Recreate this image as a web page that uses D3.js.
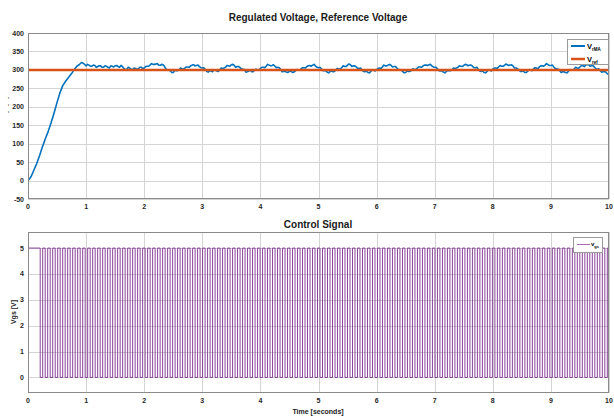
<!DOCTYPE html>
<html>
  <head>
    <meta charset="UTF-8">
    <title>Regulated Voltage</title>
    <script src="https://cdn.jsdelivr.net/npm/d3@7"></script>
    <style>
      body { margin: 0; background: #fff; }
      text { font-family: "Liberation Sans", Arial, sans-serif; font-weight: bold; }
    </style>
  </head>
  <body>
    <svg width="614" height="417"></svg>
    <script>
      // ---- data ----
      var timeTicks = [0,1,2,3,4,5,6,7,8,9,10];
      var voltTicks = [-50,0,50,100,150,200,250,300,350,400];
      var vgsTicks = [0,1,2,3,4,5];
      var vRef = 300;

      // [time, V_rMA]
      var vRMA = [
        [0,0],[0.03,5],[0.06,13],[0.10,28],[0.15,46],[0.20,68],[0.25,92],[0.30,114],[0.35,134],
        [0.40,158],[0.45,184],[0.50,212],[0.55,238],[0.60,258],[0.65,270],[0.70,280],[0.75,290],
        [0.80,302],[0.84,310],[0.88,314],[0.92,320],[0.95,318],[0.98,314],
        [1.000,311],[1.025,315],[1.050,313],[1.075,310],[1.100,310],[1.125,313],[1.150,312],[1.175,307],
        [1.200,309],[1.225,311],[1.250,311],[1.275,307],[1.300,307],[1.325,311],[1.350,310],[1.375,307],
        [1.400,305],[1.425,311],[1.450,310],[1.475,308],[1.500,311],[1.525,312],[1.550,309],[1.575,307],
        [1.600,312],[1.625,309],[1.650,304],[1.675,301],[1.700,302],[1.725,307],[1.750,305],[1.775,302],
        [1.800,301],[1.825,305],[1.850,304],[1.875,302],[1.900,303],[1.925,307],[1.950,307],[1.975,303],
        [2.000,305],[2.025,309],[2.050,310],[2.075,310],[2.100,313],[2.125,317],[2.150,315],[2.175,315],
        [2.200,316],[2.225,317],[2.250,313],[2.275,312],[2.300,315],[2.325,314],[2.350,309],[2.375,302],
        [2.400,301],[2.425,300],[2.450,297],[2.475,293],[2.500,293],[2.525,299],[2.550,298],[2.575,298],
        [2.600,300],[2.625,305],[2.650,303],[2.675,302],[2.700,305],[2.725,308],[2.750,308],[2.775,307],
        [2.800,311],[2.825,313],[2.850,314],[2.875,311],[2.900,312],[2.925,313],[2.950,309],[2.975,306],
        [3.000,305],[3.025,306],[3.050,301],[3.075,296],[3.100,294],[3.125,298],[3.150,297],[3.175,295],
        [3.200,299],[3.225,299],[3.250,297],[3.275,296],[3.300,300],[3.325,305],[3.350,304],[3.375,305],
        [3.400,307],[3.425,312],[3.450,311],[3.475,310],[3.500,314],[3.525,315],[3.550,312],[3.575,307],
        [3.600,309],[3.625,309],[3.650,306],[3.675,302],[3.700,302],[3.725,301],[3.750,294],[3.775,295],
        [3.800,297],[3.825,299],[3.850,295],[3.875,295],[3.900,299],[3.925,302],[3.950,300],[3.975,299],
        [4.000,304],[4.025,307],[4.050,307],[4.075,306],[4.100,310],[4.125,315],[4.150,313],[4.175,311],
        [4.200,312],[4.225,314],[4.250,310],[4.275,306],[4.300,307],[4.325,306],[4.350,301],[4.375,295],
        [4.400,296],[4.425,296],[4.450,294],[4.475,293],[4.500,296],[4.525,297],[4.550,293],[4.575,294],
        [4.600,297],[4.625,301],[4.650,299],[4.675,299],[4.700,303],[4.725,306],[4.750,306],[4.775,305],
        [4.800,309],[4.825,311],[4.850,312],[4.875,310],[4.900,313],[4.925,315],[4.950,310],[4.975,307],
        [5.000,306],[5.025,307],[5.050,303],[5.075,298],[5.100,298],[5.125,298],[5.150,294],[5.175,292],
        [5.200,296],[5.225,297],[5.250,295],[5.275,296],[5.300,300],[5.325,304],[5.350,302],[5.375,303],
        [5.400,306],[5.425,311],[5.450,309],[5.475,309],[5.500,313],[5.525,316],[5.550,314],[5.575,309],
        [5.600,311],[5.625,311],[5.650,308],[5.675,304],[5.700,304],[5.725,305],[5.750,299],[5.775,296],
        [5.800,295],[5.825,297],[5.850,293],[5.875,292],[5.900,296],[5.925,300],[5.950,299],[5.975,297],
        [6.000,301],[6.025,304],[6.050,305],[6.075,304],[6.100,308],[6.125,313],[6.150,311],[6.175,311],
        [6.200,313],[6.225,315],[6.250,312],[6.275,308],[6.300,309],[6.325,309],[6.350,305],[6.375,300],
        [6.400,301],[6.425,299],[6.450,296],[6.475,292],[6.500,293],[6.525,297],[6.550,296],[6.575,296],
        [6.600,298],[6.625,303],[6.650,301],[6.675,301],[6.700,305],[6.725,308],[6.750,308],[6.775,307],
        [6.800,311],[6.825,313],[6.850,313],[6.875,312],[6.900,314],[6.925,315],[6.950,311],[6.975,308],
        [7.000,307],[7.025,307],[7.050,302],[7.075,298],[7.100,297],[7.125,298],[7.150,294],[7.175,292],
        [7.200,296],[7.225,298],[7.250,298],[7.275,298],[7.300,301],[7.325,305],[7.350,304],[7.375,305],
        [7.400,307],[7.425,311],[7.450,310],[7.475,309],[7.500,312],[7.525,315],[7.550,314],[7.575,311],
        [7.600,313],[7.625,313],[7.650,310],[7.675,306],[7.700,306],[7.725,307],[7.750,301],[7.775,297],
        [7.800,296],[7.825,297],[7.850,293],[7.875,292],[7.900,296],[7.925,300],[7.950,299],[7.975,297],
        [8.000,302],[8.025,305],[8.050,305],[8.075,304],[8.100,308],[8.125,312],[8.150,310],[8.175,310],
        [8.200,312],[8.225,316],[8.250,314],[8.275,312],[8.300,313],[8.325,314],[8.350,310],[8.375,305],
        [8.400,305],[8.425,303],[8.450,300],[8.475,296],[8.500,296],[8.525,297],[8.550,293],[8.575,293],
        [8.600,296],[8.625,301],[8.650,299],[8.675,298],[8.700,302],[8.725,306],[8.750,305],[8.775,303],
        [8.800,308],[8.825,311],[8.850,311],[8.875,310],[8.900,313],[8.925,317],[8.950,314],[8.975,312],
        [9.000,312],[9.025,313],[9.050,308],[9.075,304],[9.100,303],[9.125,302],[9.150,298],[9.175,293],
        [9.200,295],[9.225,295],[9.250,293],[9.275,292],[9.300,296],[9.325,301],[9.350,299],[9.375,299],
        [9.400,302],[9.425,307],[9.450,305],[9.475,304],[9.500,308],[9.525,312],[9.550,311],[9.575,309],
        [9.600,313],[9.625,315],[9.650,314],[9.675,310],[9.700,311],[9.725,312],[9.750,307],[9.775,303],
        [9.800,302],[9.825,303],[9.850,298],[9.875,294],[9.900,295],[9.925,296],[9.950,293],[9.975,289],
        [10.000,290]
      ];

      // switching instants of the gate signal (starts high, toggles at each instant)
      var vgsHigh = 5, vgsLow = 0;
      var vgsEdges = [
        0.210,0.253,0.296,0.339,0.382,0.425,0.468,0.511,0.554,0.597,
        0.640,0.683,0.726,0.769,0.812,0.855,0.898,0.941,0.984,1.027,
        1.070,1.113,1.156,1.199,1.242,1.285,1.328,1.371,1.414,1.457,
        1.500,1.543,1.586,1.629,1.672,1.715,1.758,1.801,1.844,1.887,
        1.930,1.973,2.016,2.059,2.102,2.145,2.188,2.231,2.274,2.317,
        2.360,2.403,2.446,2.489,2.532,2.575,2.618,2.661,2.704,2.747,
        2.790,2.833,2.876,2.919,2.962,3.005,3.048,3.091,3.134,3.177,
        3.220,3.263,3.306,3.349,3.392,3.435,3.478,3.521,3.564,3.607,
        3.650,3.693,3.736,3.779,3.822,3.865,3.908,3.951,3.994,4.037,
        4.080,4.123,4.166,4.209,4.252,4.295,4.338,4.381,4.424,4.467,
        4.510,4.553,4.596,4.639,4.682,4.725,4.768,4.811,4.854,4.897,
        4.940,4.983,5.026,5.069,5.112,5.155,5.198,5.241,5.284,5.327,
        5.370,5.413,5.456,5.499,5.542,5.585,5.628,5.671,5.714,5.757,
        5.800,5.843,5.886,5.929,5.972,6.015,6.058,6.101,6.144,6.187,
        6.230,6.273,6.316,6.359,6.402,6.445,6.488,6.531,6.574,6.617,
        6.660,6.703,6.746,6.789,6.832,6.875,6.918,6.961,7.004,7.047,
        7.090,7.133,7.176,7.219,7.262,7.305,7.348,7.391,7.434,7.477,
        7.520,7.563,7.606,7.649,7.692,7.735,7.778,7.821,7.864,7.907,
        7.950,7.993,8.036,8.079,8.122,8.165,8.208,8.251,8.294,8.337,
        8.380,8.423,8.466,8.509,8.552,8.595,8.638,8.681,8.724,8.767,
        8.810,8.853,8.896,8.939,8.982,9.025,9.068,9.111,9.154,9.197,
        9.240,9.283,9.326,9.369,9.412,9.455,9.498,9.541,9.584,9.627,
        9.670,9.713,9.756,9.799,9.842,9.885,9.928,9.971
      ];

      var svg = d3.select("svg");
      var gridColor = "#d4d4d4", axisColor = "#8a8a8a";

      // build square wave points
      var vgs = [[0, vgsHigh]];
      var level = vgsHigh;
      vgsEdges.forEach(function(t){
        vgs.push([t, level]);
        level = (level === vgsHigh) ? vgsLow : vgsHigh;
        vgs.push([t, level]);
      });
      vgs.push([10, level]);

      function panel(top, bottom, yDomain, yTicks, id) {
        var x = d3.scaleLinear().domain([0,10]).range([28,609]);
        var y = d3.scaleLinear().domain(yDomain).range([bottom, top]);
        var g = svg.append("g");
        g.append("clipPath").attr("id", id).append("rect")
          .attr("x", 28).attr("y", top).attr("width", 581).attr("height", bottom-top);
        // grid
        g.selectAll(".gx").data(timeTicks).enter().append("line")
          .attr("x1", function(d){ return Math.round(x(d))+0.5; })
          .attr("x2", function(d){ return Math.round(x(d))+0.5; })
          .attr("y1", top).attr("y2", bottom)
          .attr("stroke", gridColor);
        g.selectAll(".gy").data(yTicks).enter().append("line")
          .attr("x1", 28).attr("x2", 609)
          .attr("y1", function(d){ return Math.round(y(d))+0.5; })
          .attr("y2", function(d){ return Math.round(y(d))+0.5; })
          .attr("stroke", gridColor);
        // tick labels
        g.selectAll(".tx").data(timeTicks).enter().append("text")
          .attr("x", function(d){ return x(d); })
          .attr("y", bottom+10)
          .attr("text-anchor", "middle")
          .attr("font-size", 7).attr("fill", "#262626")
          .text(function(d){ return d; });
        g.selectAll(".ty").data(yTicks).enter().append("text")
          .attr("x", 24)
          .attr("y", function(d){ return y(d)+2.5; })
          .attr("text-anchor", "end")
          .attr("font-size", 7).attr("fill", "#262626")
          .text(function(d){ return d; });
        return {x: x, y: y, g: g, top: top, bottom: bottom, clip: "url(#"+id+")"};
      }

      function box(p) {
        p.g.append("rect")
          .attr("x", 28.5).attr("y", p.top+0.5)
          .attr("width", 580).attr("height", p.bottom-p.top-1)
          .attr("fill", "none").attr("stroke", axisColor);
      }

      // ---- top panel ----
      var p1 = panel(33, 199, [-50,400], voltTicks, "c1");
      var line1 = d3.line()
        .x(function(d){ return p1.x(d[0]); })
        .y(function(d){ return p1.y(d[1]); });
      p1.g.append("path").datum(vRMA)
        .attr("clip-path", p1.clip)
        .attr("d", line1)
        .attr("fill", "none").attr("stroke", "#0072BD").attr("stroke-width", 1.6)
        .attr("stroke-linejoin", "round");
      p1.g.append("line")
        .attr("x1", p1.x(0)).attr("x2", p1.x(10))
        .attr("y1", p1.y(vRef)).attr("y2", p1.y(vRef))
        .attr("stroke", "#D95319").attr("stroke-width", 2.5);
      box(p1);
      svg.append("text").attr("x", 318).attr("y", 21)
        .attr("text-anchor", "middle").attr("font-size", 10).attr("fill", "#1a1a1a")
        .text("Regulated Voltage, Reference Voltage");
      svg.append("text")
        .attr("transform", "translate(10,105) rotate(-90)")
        .attr("text-anchor", "middle").attr("font-size", 6).attr("fill", "#333")
        .attr("xml:space", "preserve")
        .text("-   -   -");

      // legend top
      var l1 = svg.append("g");
      l1.append("rect").attr("x", 567.5).attr("y", 39.5).attr("width", 41).attr("height", 25)
        .attr("fill", "#fff").attr("stroke", "#9a9a9a");
      l1.append("line").attr("x1", 571).attr("x2", 585).attr("y1", 46).attr("y2", 46)
        .attr("stroke", "#0072BD").attr("stroke-width", 2);
      l1.append("line").attr("x1", 571).attr("x2", 585).attr("y1", 59).attr("y2", 59)
        .attr("stroke", "#D95319").attr("stroke-width", 2.5);
      l1.append("text").attr("x", 587).attr("y", 49).attr("font-size", 7.5).text("V")
        .append("tspan").attr("dy", 2).attr("font-size", 4.5).text("rMA");
      l1.append("text").attr("x", 587).attr("y", 62).attr("font-size", 7.5).text("V")
        .append("tspan").attr("dy", 2).attr("font-size", 4.5).text("ref");

      // ---- bottom panel ----
      var p2 = panel(232, 393, [-0.6,5.62], vgsTicks, "c2");
      var line2 = d3.line()
        .x(function(d){ return p2.x(d[0]); })
        .y(function(d){ return p2.y(d[1]); });
      p2.g.append("path").datum(vgs)
        .attr("clip-path", p2.clip)
        .attr("d", line2)
        .attr("fill", "none").attr("stroke", "#7E2F8E").attr("stroke-width", 0.9);
      box(p2);
      svg.append("text").attr("x", 318).attr("y", 228)
        .attr("text-anchor", "middle").attr("font-size", 10).attr("fill", "#1a1a1a")
        .text("Control Signal");
      svg.append("text").attr("x", 318).attr("y", 414)
        .attr("text-anchor", "middle").attr("font-size", 7).attr("fill", "#1a1a1a")
        .text("Time [seconds]");
      svg.append("text")
        .attr("transform", "translate(16,312) rotate(-90)")
        .attr("text-anchor", "middle").attr("font-size", 7).attr("fill", "#1a1a1a")
        .text("Vgs [V]");

      // legend bottom
      var l2 = svg.append("g");
      l2.append("rect").attr("x", 573.5).attr("y", 237.5).attr("width", 29).attr("height", 15)
        .attr("fill", "#fff").attr("stroke", "#9a9a9a");
      l2.append("line").attr("x1", 577).attr("x2", 590).attr("y1", 244.5).attr("y2", 244.5)
        .attr("stroke", "#A46BB4").attr("stroke-width", 1);
      l2.append("text").attr("x", 591).attr("y", 246).attr("font-size", 6).text("v")
        .append("tspan").attr("dy", 2).attr("font-size", 4).text("gs");
    </script>
  </body>
</html>
